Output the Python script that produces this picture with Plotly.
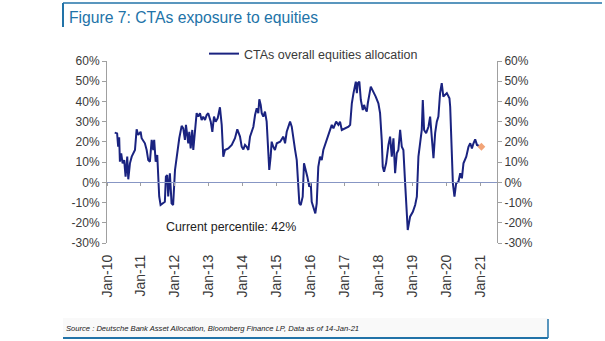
import plotly.graph_objects as go

# ---- CTA equity allocation (% of risk budget), weekly-ish readings ----
dates = [
    # 2010
    "2010-03-25", "2010-04-20", "2010-05-01", "2010-05-12", "2010-05-20", "2010-06-03",
    "2010-06-18", "2010-07-05", "2010-07-20", "2010-08-07", "2010-08-18", "2010-09-05",
    "2010-09-24", "2010-10-29", "2010-11-16", "2010-12-03", "2010-12-29",
    # 2011
    "2011-01-09", "2011-02-13", "2011-03-04", "2011-03-21", "2011-04-08", "2011-04-27",
    "2011-05-14", "2011-05-24", "2011-06-09", "2011-06-26", "2011-07-17", "2011-08-01",
    "2011-09-16", "2011-09-27", "2011-10-11", "2011-10-22", "2011-11-09", "2011-11-27",
    "2011-12-14",
    # 2012
    "2012-01-03", "2012-01-21", "2012-02-18", "2012-03-15", "2012-04-01", "2012-04-19",
    "2012-04-30", "2012-05-25", "2012-06-05", "2012-06-20", "2012-07-07", "2012-07-18",
    "2012-08-05", "2012-08-23", "2012-09-09", "2012-09-28", "2012-10-16", "2012-11-02",
    "2012-11-21", "2012-12-09", "2012-12-26",
    # 2013
    "2013-01-22", "2013-02-08", "2013-02-26", "2013-03-16", "2013-04-07", "2013-05-01",
    "2013-05-20", "2013-06-06", "2013-06-24", "2013-07-30", "2013-09-05", "2013-10-10",
    "2013-11-04", "2013-12-03", "2013-12-21",
    # 2014
    "2014-01-08", "2014-01-26", "2014-02-13", "2014-03-03", "2014-03-21", "2014-04-09",
    "2014-04-26", "2014-05-14", "2014-06-01", "2014-06-18", "2014-06-29", "2014-07-14",
    "2014-07-25", "2014-08-11", "2014-08-29", "2014-09-16", "2014-10-03", "2014-10-14",
    "2014-10-29", "2014-11-09", "2014-11-26", "2014-12-14",
    # 2015
    "2015-01-03", "2015-02-08", "2015-03-15", "2015-04-02", "2015-04-20", "2015-05-08",
    "2015-05-26", "2015-06-13", "2015-07-01", "2015-07-19", "2015-08-06", "2015-08-23",
    "2015-09-03", "2015-09-18", "2015-10-09", "2015-10-23", "2015-11-03", "2015-11-28",
    "2015-12-19",
    # 2016
    "2016-01-04", "2016-01-14", "2016-02-01", "2016-02-22", "2016-03-08", "2016-03-25",
    "2016-04-13", "2016-05-01", "2016-05-18", "2016-06-24", "2016-07-30", "2016-08-17",
    "2016-09-04", "2016-10-03", "2016-10-27", "2016-11-14", "2016-12-03",
    # 2017
    "2017-01-08", "2017-02-13", "2017-03-03", "2017-03-21", "2017-04-08", "2017-04-18",
    "2017-05-03", "2017-05-14", "2017-05-24", "2017-06-10", "2017-06-26", "2017-07-17",
    "2017-07-31", "2017-08-11", "2017-08-29", "2017-09-09", "2017-09-26", "2017-10-11",
    "2017-10-28", "2017-11-15", "2017-12-03",
    # 2018
    "2018-01-01", "2018-01-19", "2018-02-06", "2018-02-17", "2018-03-03", "2018-03-25",
    "2018-04-19", "2018-05-07", "2018-05-25", "2018-06-12", "2018-06-30", "2018-07-18",
    "2018-08-04", "2018-08-23", "2018-09-10", "2018-09-27", "2018-10-16", "2018-11-03",
    "2018-11-13", "2018-12-08",
    # 2019
    "2019-01-07", "2019-02-01", "2019-02-19", "2019-03-08", "2019-03-26", "2019-04-13",
    "2019-04-24", "2019-05-08", "2019-05-30", "2019-06-24", "2019-07-12", "2019-07-30",
    "2019-08-17", "2019-09-04", "2019-09-22", "2019-10-09", "2019-10-27", "2019-11-14",
    "2019-12-01",
    # 2020 / 2021
    "2020-01-08", "2020-02-05", "2020-02-13", "2020-02-23", "2020-03-13", "2020-03-30",
    "2020-04-17", "2020-05-12", "2020-05-31", "2020-06-18", "2020-07-05", "2020-08-04",
    "2020-08-28", "2020-09-16", "2020-10-04", "2020-10-21", "2020-11-08", "2020-11-27",
    "2020-12-25", "2021-01-07",
]

allocation = [
    # 2010
    24.6, 24.2, 17.6, 22.3, 10.2, 14.3,
    9.4, 11.0, 2.8, 12.7, 1.5, 9.4,
    12.7, 16.0, 26.2, 23.4, 25.0,
    # 2011
    21.8, 19.3, 16.0, 11.0, 10.2, 21.0,
    16.0, 21.0, 10.2, 13.5, -7.0, -11.2,
    -9.6, 2.8, 3.6, -7.0, 4.5, -10.4,
    -11.2,
    # 2012
    6.0, 12.7, 21.8, 27.9, 26.7, 21.0,
    28.4, 19.3, 25.0, 16.8, 25.9, 16.0,
    26.7, 34.2, 32.5, 34.2, 30.8, 32.5,
    30.8, 33.3, 34.2,
    # 2013
    30.0, 25.0, 32.5, 30.0, 31.7, 37.1,
    28.4, 12.7, 16.0, 16.8, 18.5, 21.8,
    26.2, 22.6, 17.6,
    # 2014
    16.3, 18.5, 17.6, 16.0, 22.6, 25.9,
    27.5, 33.3, 36.6, 34.2, 41.1, 38.3,
    34.2, 32.5, 35.0, 30.0, 16.0, 6.1,
    12.7, 20.1, 17.6, 16.0,
    # 2015
    19.3, 20.1, 22.6, 19.3, 25.0, 27.5,
    30.0, 27.5, 20.9, 16.0, 11.0, -0.5,
    -10.4, -11.2, -7.1, 9.4, 7.7, 2.8,
    -2.2,
    # 2016
    -0.5, -9.6, -12.1, -15.4, -10.4, 7.7,
    12.7, 11.0, 16.0, 20.9, 25.9, 28.4,
    26.7, 30.0, 28.4, 30.0, 25.9,
    # 2017
    26.7, 27.5, 28.4, 39.1, 44.1, 47.3,
    49.8, 44.1, 49.0, 49.8, 40.7, 35.8,
    38.3, 36.6, 35.0, 39.1, 43.2, 47.3,
    45.7, 44.1, 42.4,
    # 2018
    39.1, 34.2, 20.9, 7.7, 5.2, 9.4,
    18.5, 22.6, 12.7, 21.8, 4.5, 14.4,
    16.0, 25.9, 17.6, 16.0, -0.5, -18.7,
    -23.6, -17.0,
    # 2019
    -14.6, -11.2, -7.1, 12.7, 19.0, 25.9,
    40.7, 25.9, 24.3, 27.5, 32.5, 20.9,
    11.9, 24.3, 30.0, 32.5, 44.1, 49.0,
    42.4,
    # 2020 / 2021
    44.1, 41.6, 37.4, 22.6, -0.5, -7.1,
    -0.5, 0.3, 4.5, 2.0, 9.4, 12.7,
    17.6, 19.3, 16.8, 19.3, 21.3, 18.5,
    17.6, 17.6,
]

latest_date = ["2021-01-14"]
latest_value = [17.6]

y_tick_values = [-30, -20, -10, 0, 10, 20, 30, 40, 50, 60]
y_tick_labels = ["-30%", "-20%", "-10%", "0%", "10%", "20%", "30%", "40%", "50%", "60%"]

series_name = "CTAs overall equities allocation"
title_text = "Figure 7: CTAs exposure to equities"
note_text = "Current percentile: 42%"
source_text = "Source : Deutsche Bank Asset Allocation, Bloomberg Finance LP, Data as of 14-Jan-21"

# ---- page geometry (pixels) ----
W, H = 605, 341
PL, PR, PT, PB = 107, 497, 61, 243          # plot area edges


def px(x):
    return (x - PL) / (PR - PL)


def py(y):
    return (PB - y) / (PB - PT)


FONT = "Liberation Sans, Arial, sans-serif"
NAVY = "#1a2380"
AXIS_GREY = "#a0a0a0"
TEXT = "#3a3a3a"
DB_BLUE = "#2273a8"

fig = go.Figure()

fig.add_trace(go.Scatter(
    x=dates, y=allocation, mode="lines", name=series_name,
    line=dict(color=NAVY, width=2),
    xaxis="x", yaxis="y",
))

fig.add_trace(go.Scatter(
    x=latest_date, y=latest_value, mode="markers", showlegend=False,
    marker=dict(symbol="diamond", size=6, color="#f2a477"),
    xaxis="x2", yaxis="y2",
))

y_common = dict(
    range=[-30, 60], tickmode="array", tickvals=y_tick_values, ticktext=y_tick_labels,
    ticks="outside", ticklen=4, tickcolor=AXIS_GREY,
    showline=True, linecolor=AXIS_GREY, linewidth=1,
    showgrid=False, zeroline=False,
    tickfont=dict(family=FONT, size=12, color=TEXT),
)

fig.update_layout(
    width=W, height=H,
    margin=dict(l=PL, r=W - PR, t=PT, b=H - PB),
    paper_bgcolor="white", plot_bgcolor="white",
    xaxis=dict(
        type="date", range=["2010-01-01", "2021-07-01"],
        tick0="2010-01-01", dtick="M12", tickformat="%b-%y",
        tickangle=-90, ticks="", showline=False, showgrid=False, zeroline=False,
        ticklabelstandoff=8,
        tickfont=dict(family=FONT, size=14, color=TEXT),
    ),
    # horizontal axis line drawn through the 0% level
    xaxis2=dict(
        type="date", overlaying="x", matches="x", anchor="free", position=py(182.3),
        tick0="2010-01-01", dtick="M12",
        showline=True, linecolor="#8796c4", linewidth=1,
        ticks="outside", ticklen=3, tickcolor=AXIS_GREY,
        showticklabels=False, showgrid=False, zeroline=False,
    ),
    yaxis=dict(**y_common),
    yaxis2=dict(**y_common, overlaying="y", matches="y", side="right",
                anchor="free", position=1),
    showlegend=True,
    legend=dict(
        x=px(204), y=py(54), xanchor="left", yanchor="middle",
        bgcolor="rgba(0,0,0,0)", borderwidth=0,
        font=dict(family=FONT, size=12.5, color=TEXT),
    ),
    annotations=[
        dict(text=title_text, xref="paper", yref="paper", x=px(67), y=py(18),
             xanchor="left", yanchor="middle", showarrow=False,
             font=dict(family=FONT, size=15.7, color=DB_BLUE)),
        dict(text=note_text, xref="paper", yref="y", x=px(164), y=-22,
             xanchor="left", yanchor="middle", showarrow=False,
             font=dict(family=FONT, size=12.4, color="#222222")),
        dict(text="<i>" + source_text + "</i>", xref="paper", yref="paper",
             x=px(64), y=py(328), xanchor="left", yanchor="middle", showarrow=False,
             font=dict(family=FONT, size=7.6, color="#222222")),
    ],
    shapes=[
        # title frame
        dict(type="line", xref="paper", yref="paper", x0=px(63), x1=px(63),
             y0=py(3), y1=py(27), line=dict(color=DB_BLUE, width=2)),
        dict(type="line", xref="paper", yref="paper", x0=px(63), x1=px(602),
             y0=py(3), y1=py(3), line=dict(color=DB_BLUE, width=1.5)),
        # footer frame
        dict(type="rect", xref="paper", yref="paper", x0=px(63), x1=px(548),
             y0=py(337), y1=py(318), line=dict(width=0), fillcolor="rgba(0,0,0,0.025)",
             layer="below"),
        dict(type="line", xref="paper", yref="paper", x0=px(63), x1=px(548),
             y0=py(338), y1=py(338), line=dict(color=DB_BLUE, width=2)),
        dict(type="line", xref="paper", yref="paper", x0=px(548), x1=px(548),
             y0=py(319), y1=py(338), line=dict(color=DB_BLUE, width=1.5)),
    ],
)

fig.write_html("out.html")
